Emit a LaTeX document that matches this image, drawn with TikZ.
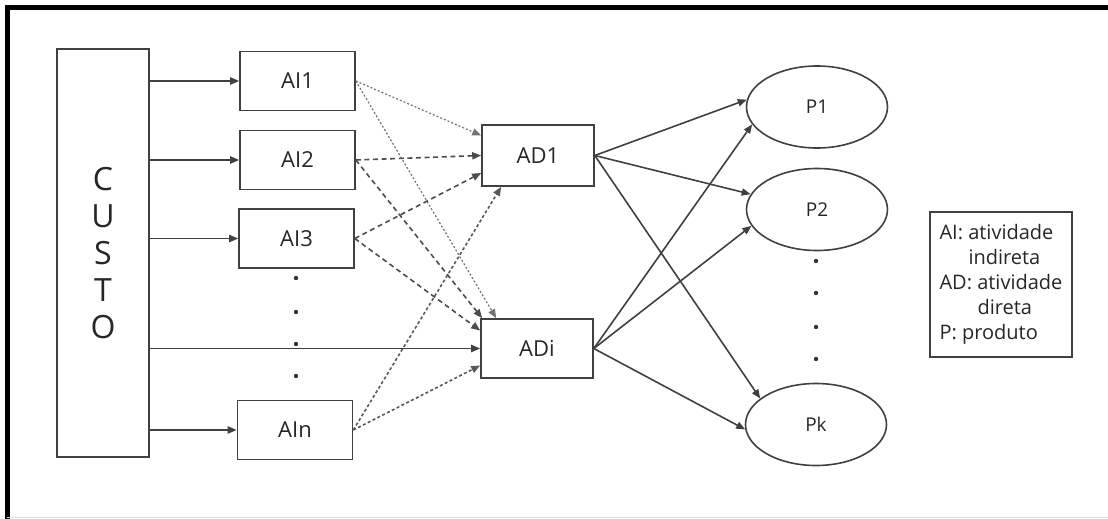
\documentclass[tikz,border=0pt]{standalone}
\usepackage{fontspec}
\setmainfont{Open Sans}
\usepackage{tikz}
\usetikzlibrary{%
  arrows.meta,%
  shapes.geometric%
}
\tikzset{
  caixa/.style={draw=black!75, line width=0.8pt, rectangle, inner sep=0pt,
    minimum width=57.5pt, minimum height=29.5pt, text=black!85,
    font=\fontsize{11}{13}\selectfont},
  produto/.style={draw=black!75, line width=0.8pt, ellipse, inner sep=0pt,
    minimum width=70.5pt, minimum height=41pt, text=black!85,
    font=\fontsize{9.5}{11}\selectfont},
  seta/.style={draw=black!75, line width=0.8pt,
    -{Triangle[length=4.5pt,width=3.6pt]}},
  pontilhado/.style={seta, black!55, line width=0.6pt, dash pattern=on 1pt off 1pt},
  tracejado/.style={seta, black!70, dash pattern=on 2.5pt off 1.8pt},
  tracinho/.style={seta, black!65, dash pattern=on 1.5pt off 1.2pt},
  ponto/.style={black!80}
}

\begin{document}
\begin{tikzpicture}[x=0.5pt, y=-0.5pt]
        \useasboundingbox (0,0) rectangle (1108,519);
        \draw [line width=2.5pt] (7,519) -- (7,7.5) -- (1108,7.5);
        \draw [black!15] (7,517.5) -- (1108,517.5);

        \node [caixa, minimum width=46pt, minimum height=204pt, align=center,
          font=\fontsize{16}{18.5}\selectfont] (custo) at (103,253)
          {C\\U\\S\\T\\O};

        \node [caixa] (ai1) at (297.5,81) {AI1};
        \node [caixa] (ai2) at (297.5,160) {AI2};
        \node [caixa] (ai3) at (296.5,238.5) {AI3};
        \node [caixa] (ain) at (295,430) {AIn};
        \foreach \y in {278,312,344,376}
          \fill [ponto] (296,\y) circle (1.1pt);

        \node [caixa, minimum width=56pt, minimum height=30.5pt] (ad1) at (538,155.5) {AD1};
        \node [caixa, minimum width=56pt, minimum height=29.5pt] (adi) at (537,348.5) {ADi};

        \node [produto] (p1) at (817,107) {P1};
        \node [produto] (p2) at (817,209.5) {P2};
        \node [produto] (pk) at (816,424.5) {Pk};
        \foreach \y in {261,293,327,359}
          \fill [ponto] (816,\y) circle (1.1pt);

        \node [draw=black!75, line width=0.8pt, align=left, inner sep=0pt,
          minimum width=71pt, minimum height=72.5pt, text=black!85,
          font=\fontsize{10}{12.5}\selectfont] (legenda) at (1001,284.5)
          {AI: atividade\\\hspace*{14.5pt}indireta\\AD: atividade\\\hspace*{19pt}direta\\P: produto};

        \foreach \n in {ai1,ai2,ai3,ain}
          \draw [seta] (custo.east |- \n.west) -- (\n.west);
        \draw [seta] (custo.east |- adi.west) -- (adi.west);

        \draw [pontilhado] (ai1.east) -- ([yshift=10pt]ad1.west);
        \draw [pontilhado] (ai1.east) -- ([xshift=8pt]adi.north west);
        \draw [tracejado] (ai2.east) -- (ad1.west);
        \draw [tracejado] (ai2.east) -- ([xshift=1pt]adi.north west);
        \draw [tracejado] (ai3.east) -- ([yshift=-8.75pt]ad1.west);
        \draw [tracejado] (ai3.east) -- ([yshift=9pt]adi.west);
        \draw [tracinho] (ain.east) -- ([xshift=10pt]ad1.south west);
        \draw [tracinho] (ain.east) -- ([yshift=-8.5pt]adi.west);

        \draw [seta] (ad1.east) -- (p1.174);
        \draw [seta] (ad1.east) -- (p2.167);
        \draw [seta] (ad1.east) -- (pk.155);
        \draw [seta] (adi.east) -- (p1.195);
        \draw [seta] (adi.east) -- (p2.194);
        \draw [seta] (adi.east) -- (pk.184);
      \end{tikzpicture}
\end{document}
